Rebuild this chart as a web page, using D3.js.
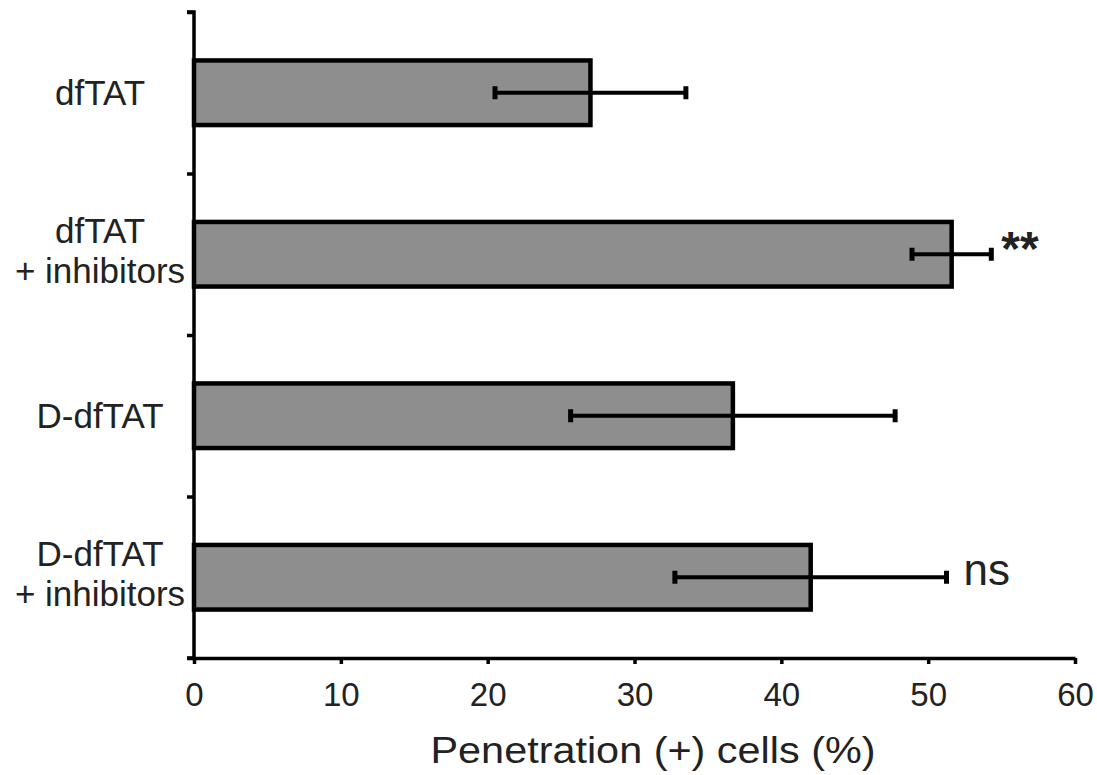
<!DOCTYPE html>
<html>
<head>
<meta charset="utf-8">
<script src="https://cdn.jsdelivr.net/npm/d3@7"></script>
<style>
  html, body { margin: 0; padding: 0; background: #fff; }
  svg text { font-family: "Liberation Sans", Arial, sans-serif; fill: #222; }
</style>
</head>
<body>
<svg id="chart" width="1097" height="775"></svg>
<script>
// Group labels (each entry is a list of text lines)
const categories = [
  ["dfTAT"],
  ["dfTAT", "+ inhibitors"],
  ["D-dfTAT"],
  ["D-dfTAT", "+ inhibitors"]
];
// Mean percentage of penetration-positive cells
const means = [27.0, 51.6, 36.7, 42.0];
// Standard deviation for each group
const errors = [6.5, 2.7, 11.05, 9.25];
// Significance markers shown beside the error bars
const marks = ["", "**", "", "ns"];
// X axis tick values
const xTicks = [0, 10, 20, 30, 40, 50, 60];
const xTitle = "Penetration (+) cells (%)";

const svg = d3.select("#chart");
const plotLeft = 194, plotRight = 1075, plotTop = 12, plotBottom = 658;

const keys = categories.map((c, i) => i);
const x = d3.scaleLinear().domain([0, 60]).range([plotLeft, plotRight]);
const y = d3.scaleBand().domain(keys).range([plotTop, plotBottom])
  .paddingInner(0.6).paddingOuter(0.3);
const yEdges = d3.scaleLinear().domain([0, keys.length]).range([plotTop, plotBottom]);

// Bars
svg.append("g").selectAll("rect")
  .data(keys)
  .join("rect")
  .attr("x", x(0))
  .attr("y", i => y(i))
  .attr("width", i => x(means[i]) - x(0))
  .attr("height", y.bandwidth())
  .attr("fill", "#8e8e8e")
  .attr("stroke", "#000")
  .attr("stroke-width", 4.5);

// Error bars
const eg = svg.append("g").attr("stroke", "#000");
keys.forEach(i => {
  const cy = y(i) + y.bandwidth() / 2;
  const lo = x(means[i] - errors[i]), hi = x(means[i] + errors[i]);
  eg.append("line").attr("x1", lo).attr("x2", hi).attr("y1", cy).attr("y2", cy)
    .attr("stroke-width", 4);
  [lo, hi].forEach(px => {
    eg.append("line").attr("x1", px).attr("x2", px)
      .attr("y1", cy - 6.5).attr("y2", cy + 6.5).attr("stroke-width", 5);
  });
});

// Significance markers
keys.forEach(i => {
  if (!marks[i]) return;
  const cy = y(i) + y.bandwidth() / 2;
  const hi = x(means[i] + errors[i]);
  if (marks[i] === "**") {
    svg.append("text").attr("x", hi + 10).attr("y", cy + 11)
      .attr("font-size", 48).attr("font-weight", "bold").text(marks[i]);
  } else {
    svg.append("text").attr("x", hi + 17).attr("y", cy + 8)
      .attr("font-size", 44).text(marks[i]);
  }
});

// Y axis: line with ticks at group boundaries
const yAxis = d3.axisLeft(yEdges).tickValues(d3.range(keys.length + 1))
  .tickSize(7).tickFormat("");
const gy = svg.append("g").attr("transform", `translate(${plotLeft},0)`).call(yAxis);
gy.select(".domain").attr("stroke-width", 3.5).attr("d", `M-7,${plotTop}H0V${plotBottom}H-7`);
gy.selectAll(".tick line").attr("stroke-width", 3.5);

// X axis
const xAxis = d3.axisBottom(x).tickValues(xTicks).tickSize(6).tickSizeOuter(0).tickPadding(19);
const gx = svg.append("g").attr("transform", `translate(0,${plotBottom})`).call(xAxis);
gx.select(".domain").attr("stroke-width", 3.5);
gx.selectAll(".tick line").attr("stroke-width", 3.5);
gx.selectAll(".tick text").attr("font-size", 33).attr("fill", "#222")
  .attr("font-family", "Liberation Sans, Arial, sans-serif");

// Category labels
keys.forEach(i => {
  const lines = categories[i];
  const cy = y(i) + y.bandwidth() / 2;
  const t = svg.append("text").attr("text-anchor", "middle").attr("font-size", 35);
  if (lines.length === 1) {
    t.append("tspan").attr("x", 100).attr("y", cy + 12).text(lines[0]);
  } else {
    t.append("tspan").attr("x", 100).attr("y", cy - 11).text(lines[0]);
    t.append("tspan").attr("x", 100).attr("y", cy + 29).text(lines[1]);
  }
});

// X axis title
svg.append("text").attr("x", 653).attr("y", 763).attr("text-anchor", "middle")
  .attr("font-size", 36).attr("textLength", 445).attr("lengthAdjust", "spacingAndGlyphs")
  .text(xTitle);
</script>
</body>
</html>
